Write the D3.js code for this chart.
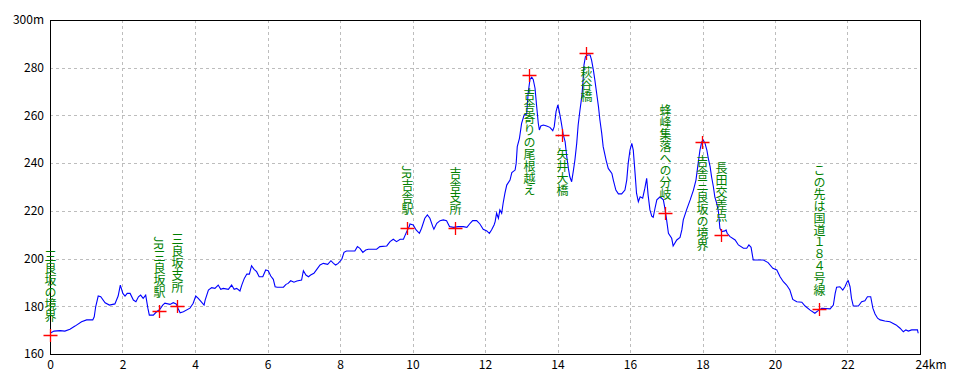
<!DOCTYPE html>
<html>
<head>
<meta charset="utf-8">
<script src="https://cdn.jsdelivr.net/npm/d3@7"></script>
<style>
  body { margin: 0; background: #fff; }
  svg { display: block; }
  .tick text { font-family: "Noto Sans CJK JP", "DejaVu Sans", sans-serif; font-size: 12px; fill: #000; }
</style>
</head>
<body>
<svg width="960" height="384"></svg>
<script>
// distance (km) and elevation (m) along the route
var km = [0, 0.11, 0.28, 0.41, 0.55, 0.69, 0.87, 1.01, 1.18, 1.22, 1.26, 1.33, 1.40, 1.52, 1.64, 1.79, 1.88, 1.94, 2.01, 2.07,
  2.13, 2.21, 2.30, 2.37, 2.44, 2.50, 2.57, 2.64, 2.70, 2.74, 2.85, 2.94, 3.03, 3.11, 3.17, 3.31, 3.40, 3.48, 3.54, 3.59,
  3.68, 3.86, 3.95, 4.02, 4.09, 4.18, 4.25, 4.28, 4.37, 4.46, 4.55, 4.64, 4.71, 4.78, 4.92, 5.01, 5.08, 5.15, 5.24, 5.29,
  5.36, 5.43, 5.50, 5.56, 5.63, 5.70, 5.77, 5.87, 5.95, 6.02, 6.09, 6.16, 6.21, 6.27, 6.44, 6.51, 6.57, 6.64, 6.73, 6.81,
  6.94, 6.99, 7.06, 7.13, 7.19, 7.28, 7.36, 7.45, 7.54, 7.66, 7.75, 7.82, 7.88, 7.95, 8.05, 8.11, 8.18, 8.41, 8.48, 8.55,
  8.63, 8.71, 8.78, 9.01, 9.10, 9.29, 9.38, 9.47, 9.56, 9.66, 9.75, 9.84, 9.91, 9.93, 10.02, 10.10, 10.19, 10.25, 10.34, 10.41,
  10.48, 10.56, 10.59, 10.67, 10.76, 10.85, 10.94, 11.02, 11.13, 11.26, 11.40, 11.50, 11.59, 11.66, 11.77, 11.86, 11.95, 12.05, 12.12, 12.18,
  12.25, 12.28, 12.32, 12.37, 12.41, 12.46, 12.50, 12.55, 12.60, 12.69, 12.74, 12.83, 12.86, 12.89, 12.95, 13.01, 13.08, 13.15, 13.19, 13.24,
  13.29, 13.33, 13.38, 13.43, 13.47, 13.50, 13.54, 13.61, 13.70, 13.79, 13.87, 13.91, 13.96, 14.01, 14.05, 14.10, 14.16, 14.21, 14.25, 14.30,
  14.34, 14.39, 14.44, 14.48, 14.53, 14.57, 14.62, 14.67, 14.70, 14.73, 14.77, 14.83, 14.90, 14.94, 14.99, 15.03, 15.08, 15.13, 15.17, 15.22,
  15.26, 15.34, 15.40, 15.50, 15.54, 15.61, 15.68, 15.77, 15.86, 15.91, 15.95, 16.00, 16.05, 16.09, 16.14, 16.18, 16.23, 16.28, 16.35, 16.41,
  16.46, 16.50, 16.55, 16.60, 16.64, 16.69, 16.74, 16.83, 16.92, 16.97, 17.01, 17.06, 17.15, 17.19, 17.29, 17.38, 17.43, 17.47, 17.56, 17.66,
  17.75, 17.82, 17.88, 17.93, 17.98, 18.02, 18.07, 18.12, 18.16, 18.21, 18.25, 18.30, 18.34, 18.39, 18.44, 18.48, 18.53, 18.62, 18.65, 18.68,
  18.76, 18.90, 18.99, 19.13, 19.22, 19.28, 19.34, 19.38, 19.40, 19.68, 19.81, 19.94, 20.05, 20.14, 20.23, 20.32, 20.41, 20.49, 20.60, 20.74,
  20.83, 20.97, 21.10, 21.19, 21.29, 21.52, 21.61, 21.66, 21.70, 21.79, 21.87, 21.93, 21.99, 22.02, 22.07, 22.11, 22.16, 22.30, 22.39, 22.48,
  22.55, 22.64, 22.70, 22.76, 22.83, 22.90, 23.03, 23.17, 23.34, 23.45, 23.54, 23.61, 23.68, 23.77, 23.93, 23.95];

var elev = [168.7, 169.6, 169.8, 169.6, 170.4, 171.7, 173.5, 174.3, 174.3, 175.6, 179.8, 184.3, 184.0, 181.5, 180.5, 181.0, 184.3, 188.9, 185.4, 184.3,
  185.4, 185.4, 182.6, 181.9, 184.0, 184.7, 183.3, 184.7, 179.2, 176.3, 176.3, 177.7, 178.7, 180.5, 181.3, 180.8, 181.5, 181.0, 178.9, 177.3,
  177.7, 179.2, 181.3, 184.3, 183.3, 181.7, 180.5, 182.6, 186.8, 187.8, 187.5, 188.9, 187.1, 187.5, 187.1, 188.9, 187.1, 187.5, 186.4, 188.9,
  191.7, 193.5, 193.5, 197.0, 195.5, 194.5, 192.4, 192.4, 195.2, 194.9, 192.7, 191.3, 188.2, 188.0, 188.0, 189.2, 189.6, 190.7, 190.1, 190.6,
  191.0, 194.9, 193.1, 192.4, 193.1, 193.8, 195.5, 197.3, 198.0, 197.6, 199.1, 198.0, 197.3, 198.0, 199.7, 202.6, 203.2, 203.2, 205.0, 204.3,
  202.6, 203.6, 203.9, 203.9, 205.0, 205.3, 207.1, 208.1, 207.1, 208.1, 208.1, 211.3, 213.4, 214.5, 214.1, 212.0, 210.6, 212.7, 216.9, 218.3,
  216.9, 213.4, 212.3, 214.8, 215.9, 216.2, 215.9, 213.4, 213.1, 213.4, 213.4, 213.1, 214.8, 215.9, 215.9, 214.5, 212.3, 211.6, 210.6, 212.0,
  214.1, 215.5, 219.0, 216.9, 220.4, 219.0, 223.2, 227.4, 230.8, 232.9, 236.0, 237.1, 239.9, 246.9, 250.4, 256.7, 260.2, 260.6, 269.3, 275.1,
  276.0, 275.1, 271.4, 263.0, 256.7, 253.9, 255.6, 256.0, 255.6, 255.0, 253.6, 255.3, 261.6, 264.4, 261.6, 257.4, 251.8, 249.0, 243.4, 237.8,
  234.3, 232.2, 237.1, 241.3, 248.3, 256.0, 262.3, 267.9, 273.5, 281.1, 284.6, 285.3, 285.3, 283.2, 279.0, 274.9, 269.3, 263.7, 258.1, 252.5,
  246.9, 241.3, 237.8, 235.7, 232.9, 228.7, 227.1, 227.1, 228.7, 232.9, 239.9, 245.5, 248.3, 245.5, 235.7, 227.4, 223.8, 225.9, 225.3, 229.5,
  233.6, 226.6, 220.4, 217.8, 217.3, 221.1, 224.6, 225.9, 224.6, 220.4, 216.2, 210.6, 208.5, 205.3, 207.8, 208.9, 212.0, 216.2, 220.4, 224.6,
  228.7, 232.9, 239.9, 245.5, 249.0, 249.7, 248.3, 245.5, 242.0, 238.5, 234.3, 230.1, 225.9, 223.2, 219.6, 212.7, 211.3, 211.6, 212.0, 210.6,
  209.2, 207.8, 205.7, 204.3, 204.3, 205.7, 204.7, 201.1, 199.4, 199.4, 198.3, 195.9, 195.2, 192.4, 190.3, 188.9, 186.8, 182.9, 181.9, 181.7,
  180.1, 178.4, 177.1, 178.2, 179.2, 178.9, 180.5, 185.4, 188.0, 188.2, 186.8, 188.2, 190.3, 190.7, 188.2, 183.3, 180.1, 180.1, 181.9, 182.3,
  184.0, 184.0, 179.2, 176.8, 175.0, 174.3, 173.8, 173.5, 172.2, 170.8, 169.3, 170.1, 169.6, 170.1, 170.1, 168.7];

// named points along the route
var spotNames = ["三良坂の境界", "JR三良坂駅", "三良坂支所", "JR吉舎駅", "吉舎支所", "吉舎寄りの尾根越え", "矢井大橋", "萩谷橋",
  "蜂峰集落への分岐", "吉舎三良坂の境界", "長田交差点", "この先は国道１８４号線"];
var spotKm = [0, 3.0, 3.5, 9.86, 11.16, 13.21, 14.12, 14.79, 16.97, 17.99, 18.51, 21.21];
var spotElev = [168, 178, 180, 213, 213, 277, 252, 286, 219, 249, 210, 179];
var spotBelow = [false, false, false, false, false, true, true, true, false, true, false, false];

var xTicks = [0, 2, 4, 6, 8, 10, 12, 14, 16, 18, 20, 22, 24];
var yTicks = [160, 180, 200, 220, 240, 260, 280, 300];

var svg = d3.select("svg"),
    plotL = 50, plotR = 920, plotT = 20, plotB = 354;

var x = d3.scaleLinear().domain([0, 24]).range([plotL, plotR]);
var y = d3.scaleLinear().domain([160, 300]).range([plotB, plotT]);

// grid
var grid = svg.append("g")
    .attr("stroke", "#bdbdbd")
    .attr("stroke-dasharray", "3,3")
    .attr("shape-rendering", "crispEdges");

grid.selectAll("line.v")
    .data(xTicks.slice(1, -1))
    .enter()
    .append("line")
    .attr("x1", function(d) { return Math.round(x(d)) + 0.5; })
    .attr("x2", function(d) { return Math.round(x(d)) + 0.5; })
    .attr("y1", plotT)
    .attr("y2", plotB);

grid.selectAll("line.h")
    .data(yTicks.slice(1, -1))
    .enter()
    .append("line")
    .attr("y1", function(d) { return Math.round(y(d)) + 0.5; })
    .attr("y2", function(d) { return Math.round(y(d)) + 0.5; })
    .attr("x1", plotL)
    .attr("x2", plotR);

// frame
svg.append("rect")
    .attr("x", plotL + 0.5)
    .attr("y", plotT + 0.5)
    .attr("width", plotR - plotL)
    .attr("height", plotB - plotT)
    .attr("fill", "none")
    .attr("stroke", "#000")
    .attr("shape-rendering", "crispEdges");

// axes (labels only)
var xAxis = svg.append("g")
    .attr("transform", "translate(0," + plotB + ")")
    .call(d3.axisBottom(x).tickValues(xTicks).tickSize(0).tickPadding(6)
        .tickFormat(function(d) { return d === 24 ? "24km" : d; }));
xAxis.select(".domain").remove();
xAxis.selectAll(".tick text")
    .filter(function(d) { return d === 24; })
    .attr("text-anchor", "start")
    .attr("dx", -5);

var yAxis = svg.append("g")
    .attr("transform", "translate(" + plotL + ",0)")
    .call(d3.axisLeft(y).tickValues(yTicks).tickSize(0).tickPadding(6)
        .tickFormat(function(d) { return d === 300 ? "300m" : d; }));
yAxis.select(".domain").remove();

// profile line
var line = d3.line()
    .x(function(d, i) { return x(km[i]); })
    .y(function(d, i) { return y(elev[i]); });

svg.append("path")
    .datum(elev)
    .attr("d", line)
    .attr("fill", "none")
    .attr("stroke", "#0000ff")
    .attr("stroke-width", 1.1);

// markers
var spots = svg.append("g")
    .selectAll("g")
    .data(spotNames)
    .enter()
    .append("g")
    .attr("transform", function(d, i) {
        return "translate(" + Math.round(x(spotKm[i])) + "," + Math.round(y(spotElev[i])) + ")";
    });

spots.append("path")
    .attr("d", "M-6.5,0.5H7.5M0.5,-6V7")
    .attr("stroke", "#ff0000")
    .attr("stroke-width", 1.3)
    .attr("fill", "none");

spots.append("text")
    .attr("x", 0.5)
    .attr("y", function(d, i) { return spotBelow[i] ? 13 : -13; })
    .attr("text-anchor", function(d, i) { return spotBelow[i] ? "start" : "end"; })
    .style("writing-mode", "vertical-rl")
    .style("font-family", "'Noto Sans CJK JP', sans-serif")
    .style("font-size", "12px")
    .attr("fill", "#008000")
    .text(function(d) { return d; });
</script>
</body>
</html>
